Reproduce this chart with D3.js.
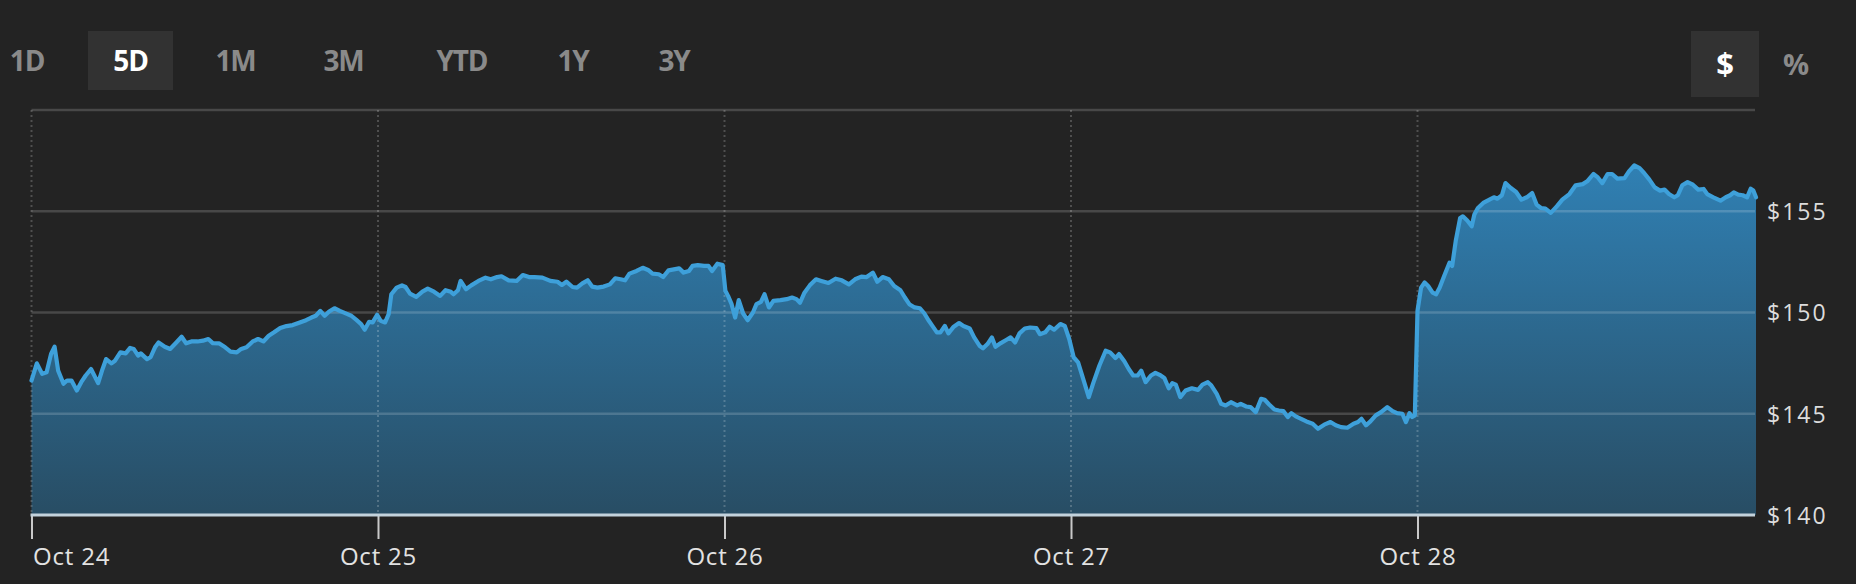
<!DOCTYPE html>
<html>
<head>
<meta charset="utf-8">
<script src="https://cdn.jsdelivr.net/npm/d3@7"></script>
<style>
  html, body { margin: 0; padding: 0; background: #232323; }
  svg { display: block; }
</style>
</head>
<body>
<svg id="chart" width="1856" height="584"></svg>
<script>
// ---------- DATA ----------
const days = ["Oct 24", "Oct 25", "Oct 26", "Oct 27", "Oct 28"];
const sessionMinutes = 390;
const priceTicks = [140, 145, 150, 155];
const priceDomain = [140, 160];
const ranges = ["1D", "5D", "1M", "3M", "YTD", "1Y", "3Y"];
const activeRange = "5D";
const units = ["$", "%"];
const activeUnit = "$";

// [minutes since open, price]
const oct24 = [[0,146.64],[6,147.49],[12,146.97],[17,147.05],[22,147.95],[26,148.31],[30,147.13],[36,146.48],[40,146.64],[45,146.64],[51,146.15],[56,146.56],[61,146.89],[67,147.21],[75,146.51],[80,147.21],[84,147.70],[90,147.49],[94,147.62],[100,148.03],[106,147.98],[111,148.25],[115,148.20],[120,147.87],[123,147.98],[130,147.70],[134,147.79],[139,148.28],[143,148.52],[150,148.31],[156,148.20],[163,148.52],[169,148.80],[174,148.48],[180,148.57],[187,148.57],[193,148.61],[199,148.69],[204,148.49],[211,148.48],[218,148.28],[224,148.07],[231,148.03],[236,148.20],[242,148.28],[249,148.57],[255,148.69],[261,148.57],[267,148.85],[273,149.02],[280,149.23],[287,149.33],[294,149.38],[302,149.51],[309,149.62],[315,149.75],[320,149.84],[325,150.08],[330,149.84],[335,150.05],[341,150.21],[347,150.08],[353,149.97],[360,149.84],[366,149.62],[371,149.43],[375,149.15],[380,149.54],[384,149.51],[389,149.89]];
const oct25 = [[3,149.59],[8,149.51],[12,149.92],[15,150.90],[21,151.23],[27,151.34],[31,151.26],[36,150.93],[43,150.77],[50,151.03],[56,151.18],[63,151.03],[70,150.82],[76,151.10],[82,151.02],[85,150.90],[90,151.10],[93,151.56],[99,151.15],[105,151.34],[113,151.56],[121,151.72],[127,151.64],[134,151.75],[139,151.79],[147,151.59],[156,151.56],[163,151.85],[170,151.75],[176,151.75],[185,151.72],[194,151.56],[202,151.52],[207,151.36],[212,151.52],[219,151.26],[224,151.23],[230,151.44],[236,151.59],[241,151.28],[247,151.23],[254,151.28],[261,151.39],[267,151.69],[273,151.64],[278,151.59],[283,151.92],[291,152.05],[298,152.21],[304,152.10],[309,151.92],[316,151.89],[321,151.75],[327,152.08],[333,152.13],[339,152.18],[344,151.97],[350,152.05],[354,152.30],[360,152.34],[367,152.30],[372,152.30],[376,152.05],[382,152.41],[388,152.34]];
const oct26 = [[1,151.07],[4,150.82],[8,150.41],[12,149.75],[16,150.61],[21,149.95],[26,149.62],[32,150.00],[36,150.41],[41,150.52],[45,150.90],[50,150.25],[55,150.57],[63,150.61],[70,150.66],[76,150.74],[81,150.66],[85,150.48],[90,150.98],[96,151.34],[103,151.64],[109,151.56],[117,151.46],[125,151.67],[132,151.59],[140,151.39],[147,151.64],[154,151.77],[160,151.75],[167,151.97],[172,151.52],[178,151.75],[185,151.64],[191,151.31],[198,151.10],[203,150.74],[208,150.41],[214,150.25],[220,150.21],[225,149.95],[230,149.59],[234,149.34],[239,149.02],[243,149.02],[248,149.34],[252,148.97],[258,149.30],[264,149.48],[269,149.33],[276,149.21],[281,148.77],[287,148.36],[291,148.23],[296,148.44],[301,148.77],[305,148.31],[311,148.49],[317,148.64],[322,148.77],[327,148.52],[332,148.97],[338,149.21],[344,149.26],[351,149.23],[355,148.93],[361,149.02],[366,149.30],[371,149.15],[378,149.43],[383,149.34],[388,148.69]];
const oct27 = [[3,147.79],[8,147.54],[12,146.97],[20,145.82],[25,146.51],[32,147.38],[39,148.11],[44,148.03],[50,147.75],[54,147.95],[60,147.59],[65,147.21],[70,146.89],[75,146.89],[79,147.13],[84,146.56],[90,146.89],[95,147.02],[101,146.89],[105,146.77],[110,146.26],[114,146.51],[118,146.44],[123,145.82],[129,146.15],[136,146.26],[143,146.18],[148,146.44],[154,146.56],[158,146.39],[164,145.98],[169,145.49],[174,145.41],[180,145.57],[187,145.41],[191,145.49],[197,145.36],[202,145.33],[208,145.08],[214,145.74],[218,145.69],[223,145.46],[229,145.21],[234,145.16],[239,145.13],[244,144.84],[248,145.03],[253,144.87],[259,144.75],[265,144.62],[272,144.51],[278,144.26],[285,144.46],[292,144.59],[298,144.43],[304,144.34],[311,144.31],[318,144.51],[323,144.59],[327,144.75],[332,144.43],[337,144.62],[343,144.92],[349,145.08],[356,145.33],[362,145.13],[367,145.03],[373,145.00],[377,144.59],[381,145.03],[384,144.84],[387,144.92]];
const oct28 = [[0,150.08],[4,151.23],[8,151.48],[12,151.31],[17,150.98],[21,150.90],[25,151.23],[30,151.80],[36,152.46],[39,152.30],[43,153.52],[48,154.67],[51,154.75],[56,154.54],[61,154.26],[64,154.84],[68,155.16],[74,155.41],[81,155.57],[86,155.69],[90,155.62],[95,155.79],[99,156.39],[105,156.15],[111,155.95],[117,155.57],[123,155.69],[129,155.90],[134,155.33],[139,155.16],[144,155.13],[150,154.92],[157,155.25],[163,155.57],[171,155.85],[178,156.28],[186,156.34],[191,156.48],[198,156.84],[203,156.67],[208,156.39],[214,156.84],[219,156.84],[225,156.61],[233,156.64],[238,156.97],[244,157.26],[250,157.13],[255,156.89],[261,156.56],[267,156.18],[273,156.02],[278,156.07],[283,155.85],[289,155.69],[293,155.79],[298,156.28],[304,156.44],[310,156.31],[316,156.07],[322,156.10],[326,155.85],[333,155.69],[341,155.52],[347,155.69],[352,155.79],[356,155.93],[361,155.82],[366,155.79],[371,155.69],[375,156.11],[378,156.02],[381,155.69]];
const dayData = [oct24, oct25, oct26, oct27, oct28];

// ---------- BUILD ----------
const series = [];
dayData.forEach((arr, di) => arr.forEach(([m, p]) => series.push({ t: di * sessionMinutes + m, p })));

const W = 1856, H = 584;
const plot = { left: 31.5, right: 1764, top: 110, bottom: 515 };
const plotRight = 1755;

const x = d3.scaleLinear().domain([0, days.length * sessionMinutes]).range([plot.left, plot.right]);
const y = d3.scaleLinear().domain(priceDomain).range([plot.bottom, plot.top]);

const svg = d3.select("#chart");
svg.append("rect").attr("width", W).attr("height", H).attr("fill", "#232323");

const defs = svg.append("defs");
const grad = defs.append("linearGradient").attr("id", "areaGrad")
  .attr("gradientUnits", "userSpaceOnUse")
  .attr("x1", 0).attr("x2", 0).attr("y1", y(priceDomain[1])).attr("y2", y(priceDomain[0]));
grad.append("stop").attr("offset", "0%").attr("stop-color", "#3188c0");
grad.append("stop").attr("offset", "100%").attr("stop-color", "#284d64");

// area
const area = d3.area().x(d => x(d.t)).y0(y(priceDomain[0])).y1(d => y(d.p));
svg.append("path").datum(series).attr("d", area).attr("fill", "url(#areaGrad)");

// horizontal gridlines (incl. top frame at 160)
svg.append("g").selectAll("line").data(priceTicks.slice(1).concat([priceDomain[1]])).join("line")
  .attr("x1", plot.left).attr("x2", plotRight)
  .attr("y1", d => y(d)).attr("y2", d => y(d))
  .attr("stroke", "#ffffff").attr("stroke-opacity", 0.17).attr("stroke-width", 2.5);

// vertical dotted day lines
svg.append("g").selectAll("line").data(days.map((d, i) => i * sessionMinutes)).join("line")
  .attr("x1", d => x(d)).attr("x2", d => x(d))
  .attr("y1", y(priceDomain[1])).attr("y2", y(priceDomain[0]))
  .attr("stroke", "#ffffff").attr("stroke-opacity", 0.2).attr("stroke-width", 2)
  .attr("stroke-dasharray", "2,3");

// price line
const line = d3.line().x(d => x(d.t)).y(d => y(d.p));
svg.append("path").datum(series).attr("d", line)
  .attr("fill", "none").attr("stroke", "#3ea0da").attr("stroke-width", 4.2)
  .attr("stroke-linejoin", "round").attr("stroke-linecap", "round");

// x axis
const xAxis = d3.axisBottom(x)
  .tickValues(days.map((d, i) => i * sessionMinutes))
  .tickFormat((d, i) => days[i])
  .tickSize(24).tickPadding(9);
const gx = svg.append("g").attr("transform", `translate(0,${y(priceDomain[0])})`).call(xAxis);
gx.select(".domain").remove();
gx.selectAll(".tick line").attr("stroke", "#c9c9c9").attr("stroke-width", 2);
gx.selectAll(".tick text")
  .attr("fill", "#e2e2e2").attr("font-family", "'Open Sans', 'Noto Sans', sans-serif")
  .attr("font-size", 24).attr("letter-spacing", "0.8px").attr("dy", "0.71em")
  .attr("text-anchor", (d, i) => i === 0 ? "start" : "middle")
  .attr("x", (d, i) => i === 0 ? 1 : 0);
svg.append("line")
  .attr("x1", plot.left - 1).attr("x2", plotRight)
  .attr("y1", y(priceDomain[0])).attr("y2", y(priceDomain[0]))
  .attr("stroke", "#c3d2dc").attr("stroke-width", 3);

// y axis labels
const yAxis = d3.axisRight(y).tickValues(priceTicks).tickFormat(d => "$" + d).tickSize(0).tickPadding(0);
const gy = svg.append("g").attr("transform", `translate(1767,0)`).call(yAxis);
gy.select(".domain").remove();
gy.selectAll(".tick text")
  .attr("fill", "#dcdcdc").attr("font-family", "'Open Sans', 'Noto Sans', sans-serif")
  .attr("font-size", 23).attr("letter-spacing", "2px").attr("dy", "0.36em");

// range buttons (layout: button centres across the toolbar)
const btnCenters = [27, 130.5, 235.5, 343.5, 462, 573, 674];
const btnG = svg.append("g");
ranges.forEach((r, i) => {
  const cxp = btnCenters[i];
  const t = btnG.append("text").text(r)
    .attr("x", cxp).attr("y", 71).attr("text-anchor", "middle")
    .attr("font-family", "'Open Sans', 'Noto Sans', sans-serif")
    .attr("font-weight", 700).attr("font-size", 28).attr("letter-spacing", "-1.2px")
    .attr("fill", r === activeRange ? "#ffffff" : "#8a8a8a");
  if (r === activeRange) {
    btnG.insert("rect", "text")
      .attr("x", cxp - 42.5).attr("y", 31).attr("width", 85).attr("height", 59)
      .attr("fill", "#323232");
  }
});

// unit buttons
const unitG = svg.append("g");
unitG.append("rect").attr("x", 1691).attr("y", 31).attr("width", 68).attr("height", 66).attr("fill", "#323232");
unitG.selectAll("text").data(units).join("text")
  .text(d => d)
  .attr("x", (d, i) => 1725 + i * 71).attr("y", 63)
  .attr("text-anchor", "middle").attr("dominant-baseline", "central")
  .attr("font-family", "'Open Sans', 'Noto Sans', sans-serif")
  .attr("font-weight", 700).attr("font-size", (d) => d === "$" ? 31 : 29)
  .attr("fill", d => d === activeUnit ? "#ffffff" : "#8a8a8a");
</script>
</body>
</html>
